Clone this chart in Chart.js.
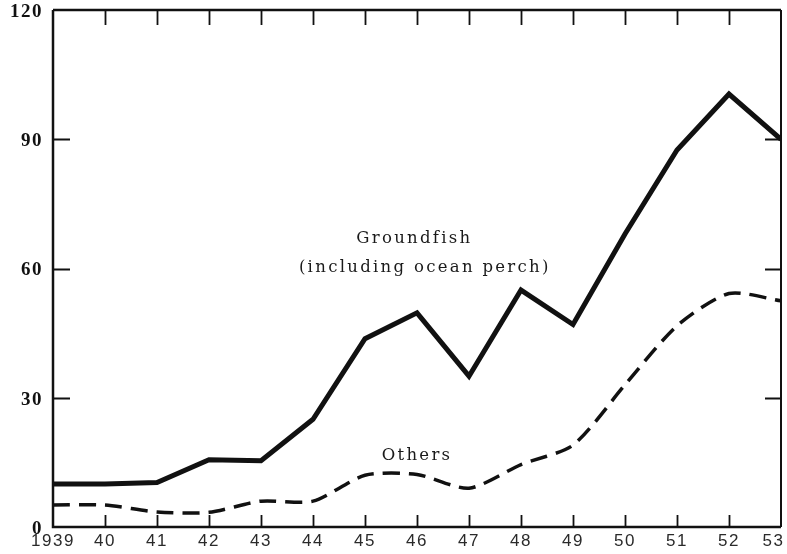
<!DOCTYPE html>
<html>
<head>
<meta charset="utf-8">
<script src="https://cdn.jsdelivr.net/npm/chart.js@4/dist/chart.umd.min.js"></script>
<style>
  html, body { margin: 0; padding: 0; background: #fff; }
  #wrap { width: 787px; height: 554px; }
</style>
</head>
<body>
<div id="wrap"><canvas id="chart" width="787" height="554"></canvas></div>
<script>
// years on the x axis
const years = [1939, 1940, 1941, 1942, 1943, 1944, 1945, 1946, 1947, 1948, 1949, 1950, 1951, 1952, 1953];
// groundfish incl. ocean perch (solid)
const groundfish = [10, 10, 10.3, 15.6, 15.4, 25, 43.7, 49.7, 35, 55, 47, 68, 87.5, 100.5, 90];
// others (dashed)
const others = [5.1, 5.1, 3.5, 3.4, 6, 6, 12, 12.2, 9, 14.5, 19, 33, 46.7, 54.2, 52.5];
const yTicks = [0, 30, 60, 90, 120];

const INK = '#111';

// letter spacing for the typed-looking tick labels
const spacing = {
  id: 'spacing',
  beforeDraw(chart) { chart.ctx.letterSpacing = '1.5px'; },
  afterDraw(chart) { chart.ctx.letterSpacing = '0px'; }
};

// frame and inward tick marks
const frame = {
  id: 'frame',
  beforeDatasetsDraw(chart) {
    const { ctx, chartArea: a, scales: { x, y } } = chart;
    ctx.save();
    ctx.strokeStyle = INK;
    ctx.lineCap = 'butt';
    ctx.lineWidth = 2.5;
    ctx.beginPath();
    ctx.moveTo(a.left, a.top); ctx.lineTo(a.left, a.bottom); ctx.lineTo(a.right, a.bottom);
    ctx.moveTo(a.left, a.top); ctx.lineTo(a.right, a.top);
    ctx.stroke();
    ctx.lineWidth = 2;
    ctx.beginPath();
    ctx.moveTo(a.right, a.top); ctx.lineTo(a.right, a.bottom);
    ctx.stroke();

    ctx.lineWidth = 1.8;
    ctx.beginPath();
    years.slice(1, -1).forEach(v => {
      const px = Math.round(x.getPixelForValue(v)) + 0.5;
      ctx.moveTo(px, a.bottom); ctx.lineTo(px, a.bottom - 12);
      ctx.moveTo(px, a.top); ctx.lineTo(px, a.top + 15);
    });
    yTicks.slice(1, -1).forEach(v => {
      const py = Math.round(y.getPixelForValue(v)) + 0.5;
      ctx.moveTo(a.left, py); ctx.lineTo(a.left + 17, py);
      ctx.moveTo(a.right, py); ctx.lineTo(a.right - 16, py);
    });
    ctx.stroke();
    ctx.restore();
  }
};

// text annotations beside the lines
const notes = {
  id: 'notes',
  afterDatasetsDraw(chart) {
    const { ctx, scales: { x, y } } = chart;
    ctx.save();
    ctx.fillStyle = '#1a1a1a';
    ctx.font = '16.5px "DejaVu Serif", serif';
    ctx.letterSpacing = '2.3px';
    ctx.textAlign = 'center';
    ctx.textBaseline = 'alphabetic';
    ctx.fillText('Groundfish', x.getPixelForValue(1945.95), y.getPixelForValue(66.0));
    ctx.fillText('(including ocean perch)', x.getPixelForValue(1946.15), y.getPixelForValue(59.3));
    ctx.fillText('Others', x.getPixelForValue(1946.0), y.getPixelForValue(15.5));
    ctx.restore();
  }
};

// last year label sits flush with the right edge, as in the original
function yearLabel(v) {
  if (v === 1939) return '1939';
  if (v === 1953) return '53\u2002\u2009';
  return String(v).slice(2);
}

new Chart(document.getElementById('chart'), {
  type: 'line',
  data: {
    labels: years,
    datasets: [
      {
        label: 'Groundfish (including ocean perch)',
        data: years.map((yr, i) => ({ x: yr, y: groundfish[i] })),
        borderColor: INK,
        borderWidth: 5,
        borderJoinStyle: 'miter',
        pointRadius: 0,
        tension: 0
      },
      {
        label: 'Others',
        data: years.map((yr, i) => ({ x: yr, y: others[i] })),
        borderColor: INK,
        borderWidth: 3.5,
        borderDash: [17, 9],
        pointRadius: 0,
        tension: 0.25
      }
    ]
  },
  options: {
    responsive: false,
    animation: false,
    events: [],
    layout: { padding: { top: 10, right: 6, left: 0, bottom: 0 } },
    plugins: { legend: { display: false }, tooltip: { enabled: false } },
    scales: {
      x: {
        type: 'linear',
        min: 1939,
        max: 1953,
        afterBuildTicks: s => { s.ticks = years.map(v => ({ value: v })); },
        afterFit: s => { s.height = 27; s.paddingLeft = 0; s.paddingRight = 0; },
        grid: { display: false, drawTicks: false },
        border: { display: false },
        ticks: {
          padding: 4,
          maxRotation: 0,
          autoSkip: false,
          color: '#2a2a2a',
          font: { family: '"Liberation Sans", Arial, sans-serif', size: 17 },
          callback: yearLabel
        }
      },
      y: {
        min: 0,
        max: 120,
        afterBuildTicks: s => { s.ticks = yTicks.map(v => ({ value: v })); },
        afterFit: s => { s.width = 53; s.paddingTop = 0; s.paddingBottom = 0; },
        grid: { display: false, drawTicks: false },
        border: { display: false },
        ticks: {
          padding: 10,
          labelOffset: 2,
          color: '#111',
          font: { family: '"Liberation Serif", serif', size: 19, weight: 'bold' }
        }
      }
    }
  },
  plugins: [spacing, frame, notes]
});
</script>
</body>
</html>
